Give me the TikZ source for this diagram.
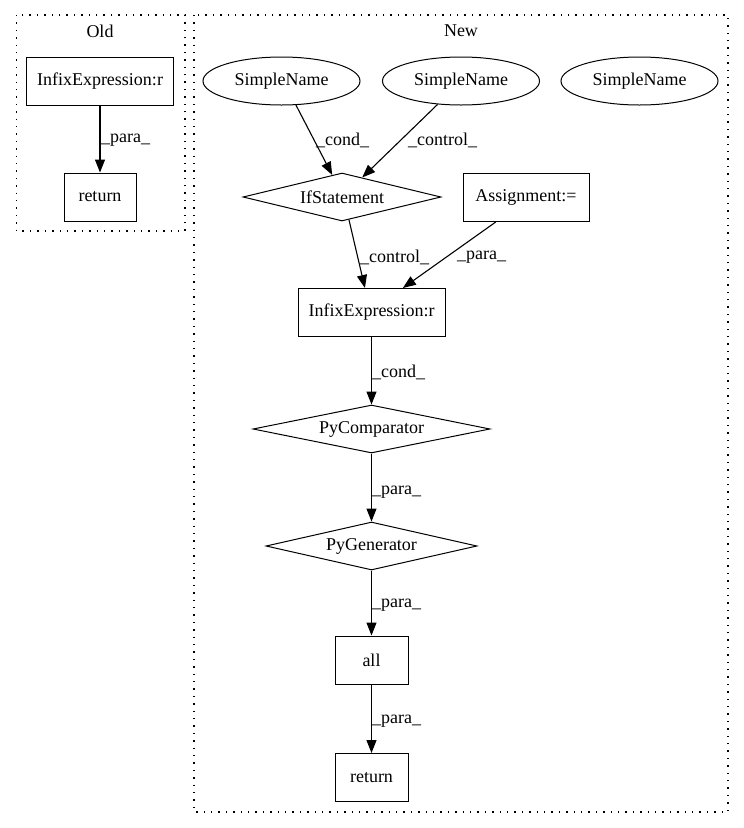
\documentclass[tikz,border=0pt]{standalone}
\usepackage{fontspec}
\setmainfont{Liberation Serif}
\usetikzlibrary{arrows.meta,shapes.geometric}
\tikzset{
  base/.style={draw=black, line width=1pt, inner sep=0pt, font=\fontsize{18}{22}\selectfont},
  boxnode/.style={base, rectangle, minimum height=48pt},
  ellnode/.style={base, ellipse, minimum width=157pt, minimum height=48pt},
  dianode/.style={base, diamond, aspect=5, minimum height=48pt},
  edge/.style={line width=1.1pt, -{Triangle[length=13pt,width=10pt]}},
  lbl/.style={inner sep=0pt, anchor=west, font=\fontsize{18}{22}\selectfont},
  clusterbox/.style={line width=1.2pt, dash pattern=on 1.4pt off 6pt},
  ctitle/.style={inner sep=0pt, font=\fontsize{18}{22}\selectfont}
}
\begin{document}
\begin{tikzpicture}[x=1pt,y=-1pt]
\useasboundingbox (0,0) rectangle (744,828);
% clusters
\draw[clusterbox] (16.5,15) rectangle (185,231);
\node[ctitle] (oldt) at (100,31) {Old};
\draw[clusterbox] (194,15) rectangle (728,812);
\node[ctitle] (newt) at (461,31) {New};
% Old nodes
\node[boxnode, minimum width=147pt] (oinf) at (100,81) {InfixExpression:r};
\node[boxnode, minimum width=72pt] (oret) at (100,197) {return};
% New nodes
\node[ellnode] (sn1) at (281.5,81) {SimpleName};
\node[ellnode] (sn2) at (461,81) {SimpleName};
\node[ellnode] (sn3) at (639.5,81) {SimpleName};
\node[dianode, minimum width=198pt] (ifs) at (342,197) {IfStatement};
\node[boxnode, minimum width=126pt] (asg) at (526,197.5) {Assignment:=};
\node[boxnode, minimum width=147pt] (infx) at (371.5,312.5) {InfixExpression:r};
\node[dianode, minimum width=237pt] (pyc) at (371.5,429) {PyComparator};
\node[dianode, minimum width=211pt] (pyg) at (371.5,546) {PyGenerator};
\node[boxnode, minimum width=73pt] (all) at (371.5,660) {all};
\node[boxnode, minimum width=73pt] (ret) at (371.5,777.5) {return};
% edges
\draw[edge] (oinf) -- (oret);
\node[lbl] (l1) at (101,140) {\_para\_};
\draw[edge] (sn1.301) -- (ifs.114);
\node[lbl] (l2) at (316,140) {\_cond\_};
\draw[edge] (sn2.225) -- (ifs.44);
\node[lbl] (l3) at (408,140) {\_control\_};
\draw[edge] (ifs.287) -- (infx.105);
\node[lbl] (l4) at (360,257) {\_control\_};
\draw[edge] (asg.219) -- (infx.38);
\node[lbl] (l5) at (457,257) {\_para\_};
\draw[edge] (infx) -- (pyc);
\node[lbl] (l6) at (372,372) {\_cond\_};
\draw[edge] (pyc) -- (pyg);
\node[lbl] (l7) at (372,492) {\_para\_};
\draw[edge] (pyg) -- (all);
\node[lbl] (l8) at (372,605) {\_para\_};
\draw[edge] (all) -- (ret);
\node[lbl] (l9) at (372,721) {\_para\_};
\end{tikzpicture}
\end{document}
